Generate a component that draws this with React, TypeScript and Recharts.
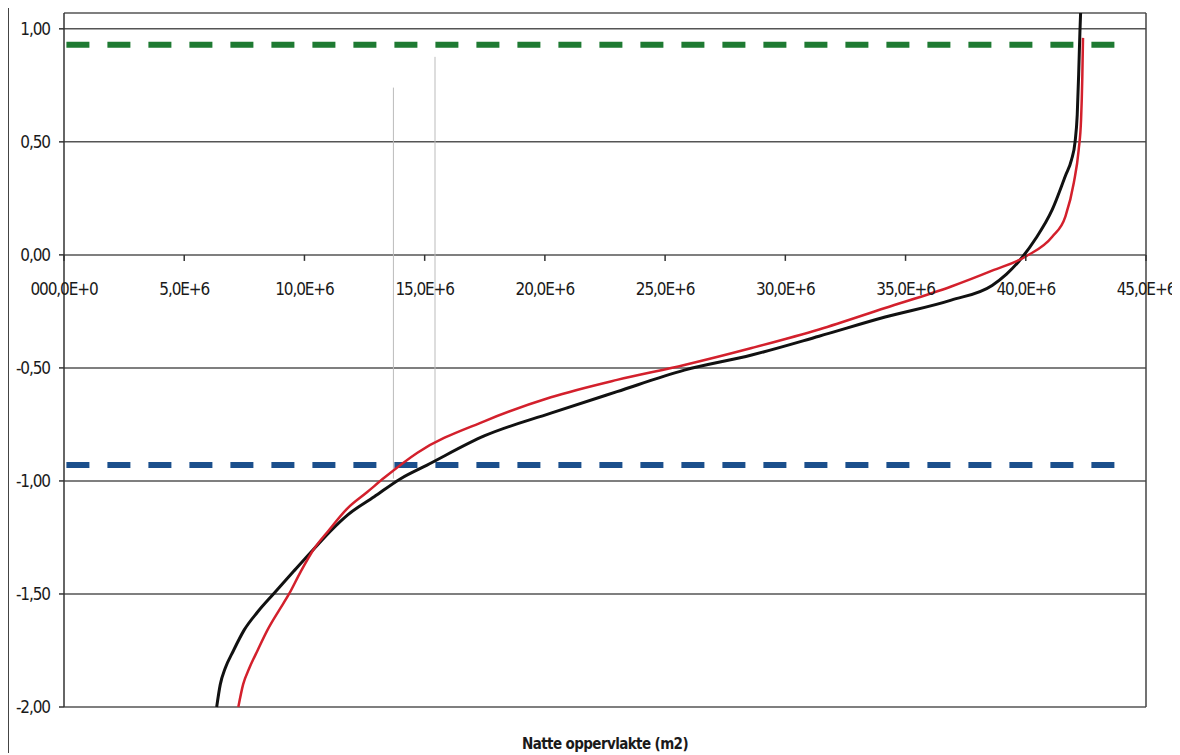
import React from "react";
import {
  LineChart,
  Line,
  XAxis,
  YAxis,
  CartesianGrid,
  ReferenceLine,
} from "recharts";

// x = wet surface (m2), y = water level
const blackCurve = [
  { x: 6.35e6, y: -2.0 },
  { x: 6.5e6, y: -1.9 },
  { x: 6.7e6, y: -1.83 },
  { x: 7.05e6, y: -1.75 },
  { x: 7.49e6, y: -1.66 },
  { x: 8.05e6, y: -1.58 },
  { x: 8.71e6, y: -1.5 },
  { x: 9.55e6, y: -1.4 },
  { x: 10.4e6, y: -1.3 },
  { x: 11.1e6, y: -1.22 },
  { x: 11.8e6, y: -1.15 },
  { x: 12.9e6, y: -1.07 },
  { x: 14.0e6, y: -0.99 },
  { x: 15.1e6, y: -0.93 },
  { x: 17.5e6, y: -0.8 },
  { x: 20.25e6, y: -0.7 },
  { x: 23.0e6, y: -0.605 },
  { x: 25.8e6, y: -0.51 },
  { x: 28.6e6, y: -0.443 },
  { x: 31.4e6, y: -0.36 },
  { x: 34.15e6, y: -0.275 },
  { x: 36.9e6, y: -0.2 },
  { x: 38.6e6, y: -0.135 },
  { x: 39.2e6, y: -0.085 },
  { x: 39.7e6, y: -0.03 },
  { x: 40.4e6, y: 0.07 },
  { x: 41.1e6, y: 0.2 },
  { x: 41.65e6, y: 0.35 },
  { x: 41.9e6, y: 0.42 },
  { x: 42.05e6, y: 0.5 },
  { x: 42.14e6, y: 0.62 },
  { x: 42.2e6, y: 0.8 },
  { x: 42.25e6, y: 0.98 },
  { x: 42.28e6, y: 1.07 },
];

const redCurve = [
  { x: 7.25e6, y: -2.0 },
  { x: 7.45e6, y: -1.9 },
  { x: 7.7e6, y: -1.83 },
  { x: 8.05e6, y: -1.75 },
  { x: 8.46e6, y: -1.66 },
  { x: 8.9e6, y: -1.58 },
  { x: 9.36e6, y: -1.5 },
  { x: 9.85e6, y: -1.4 },
  { x: 10.4e6, y: -1.3 },
  { x: 11.0e6, y: -1.22 },
  { x: 11.8e6, y: -1.12 },
  { x: 12.6e6, y: -1.05 },
  { x: 13.33e6, y: -0.985 },
  { x: 14.7e6, y: -0.875 },
  { x: 17.5e6, y: -0.735 },
  { x: 20.25e6, y: -0.63 },
  { x: 23.0e6, y: -0.553 },
  { x: 25.8e6, y: -0.487 },
  { x: 28.6e6, y: -0.412 },
  { x: 31.4e6, y: -0.33 },
  { x: 34.15e6, y: -0.235 },
  { x: 36.9e6, y: -0.14 },
  { x: 38.6e6, y: -0.07 },
  { x: 40.0e6, y: -0.007 },
  { x: 41.1e6, y: 0.08 },
  { x: 41.65e6, y: 0.17 },
  { x: 42.0e6, y: 0.32 },
  { x: 42.2e6, y: 0.465 },
  { x: 42.3e6, y: 0.6 },
  { x: 42.35e6, y: 0.78 },
  { x: 42.38e6, y: 0.96 },
];

const upperLevel = [
  { x: 0.1e6, y: 0.93 },
  { x: 44.1e6, y: 0.93 },
];
const lowerLevel = [
  { x: 0.1e6, y: -0.93 },
  { x: 44.1e6, y: -0.93 },
];

const markerLeft = [
  { x: 13.7e6, y: -0.99 },
  { x: 13.7e6, y: 0.74 },
];
const markerRight = [
  { x: 15.43e6, y: -0.92 },
  { x: 15.43e6, y: 0.876 },
];

const xTicks = [0, 5e6, 10e6, 15e6, 20e6, 25e6, 30e6, 35e6, 40e6, 45e6];
const yTicks = [-2, -1.5, -1, -0.5, 0, 0.5, 1];

const Y_MIN = -2;
const Y_MAX = 1.07;

const W = 1170;
const H = 745;
const TOP = 5;
const X_AXIS_H = 46;
const PLOT_H = H - TOP - X_AXIS_H;
const ZERO_FROM_BOTTOM = (PLOT_H * (0 - Y_MIN)) / (Y_MAX - Y_MIN);

const FONT = "'DejaVu Sans Condensed', 'Liberation Sans Narrow', sans-serif";

const fmtX = (v: number) => (v === 0 ? "000,0E+0" : `${v / 1e6},0E+6`);
const fmtY = (v: number) => v.toFixed(2).replace(".", ",");

// x axis crosses at y = 0, so the ticks are moved up from the plot bottom
const XTick = (props: any) => {
  const { x, y, payload } = props;
  const y0 = y - ZERO_FROM_BOTTOM;
  return (
    <g>
      <line x1={x} x2={x} y1={y0} y2={y0 + 6} stroke="#333" strokeWidth={1.5} />
      <text
        x={x}
        y={y0 + 40}
        textAnchor="middle"
        fontFamily={FONT}
        fontSize={17}
        letterSpacing={-1.1}
        fill="#1a1a1a"
      >
        {fmtX(payload.value)}
      </text>
    </g>
  );
};

export default function App() {
  return (
    <div style={{ width: W + 2, height: H, borderLeft: "1.5px solid #444" }}>
      <LineChart
        width={W}
        height={H}
        margin={{ top: TOP, right: 33, bottom: 0, left: 0 }}
      >
        <CartesianGrid vertical={false} stroke="#555" strokeWidth={1.5} />
        <XAxis
          type="number"
          dataKey="x"
          domain={[0, 45e6]}
          ticks={xTicks}
          height={X_AXIS_H}
          axisLine={false}
          tickLine={false}
          tickSize={0}
          tickMargin={0}
          tick={<XTick />}
          interval={0}
          label={{
            value: "Natte oppervlakte (m2)",
            position: "insideBottom",
            offset: 4,
            fontFamily: FONT,
            fontSize: 15,
            fontWeight: "bold",
            letterSpacing: -0.6,
            fill: "#1a1a1a",
          }}
        />
        <YAxis
          type="number"
          dataKey="y"
          domain={[Y_MIN, Y_MAX]}
          ticks={yTicks}
          width={55}
          interval={0}
          stroke="#333"
          strokeWidth={1.5}
          tickSize={5}
          tickMargin={9}
          tickFormatter={fmtY}
          tick={{ fontFamily: FONT, fontSize: 17, letterSpacing: -1.1, fill: "#1a1a1a" }}
        />
        <ReferenceLine x={45e6} stroke="#444" strokeWidth={1.5} />
        <Line
          data={markerLeft}
          dataKey="y"
          stroke="#bbbbbb"
          strokeWidth={1}
          dot={false}
          isAnimationActive={false}
        />
        <Line
          data={markerRight}
          dataKey="y"
          stroke="#bbbbbb"
          strokeWidth={1}
          dot={false}
          isAnimationActive={false}
        />
        <Line
          data={upperLevel}
          dataKey="y"
          stroke="#1e7a32"
          strokeWidth={6}
          strokeDasharray="23 18"
          dot={false}
          isAnimationActive={false}
        />
        <Line
          data={lowerLevel}
          dataKey="y"
          stroke="#1b4f8c"
          strokeWidth={6}
          strokeDasharray="23 18"
          dot={false}
          isAnimationActive={false}
        />
        <Line
          data={blackCurve}
          type="monotone"
          dataKey="y"
          stroke="#111111"
          strokeWidth={3}
          dot={false}
          isAnimationActive={false}
        />
        <Line
          data={redCurve}
          type="monotone"
          dataKey="y"
          stroke="#d3202c"
          strokeWidth={2.5}
          dot={false}
          isAnimationActive={false}
        />
      </LineChart>
    </div>
  );
}
